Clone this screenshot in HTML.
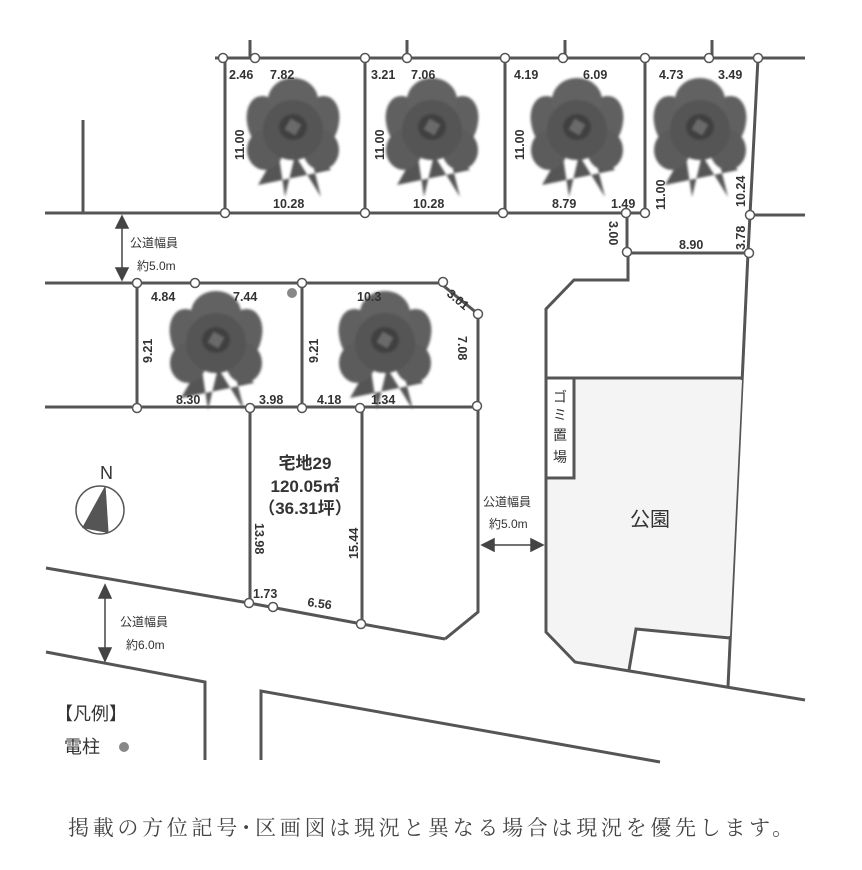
<!DOCTYPE html>
<html><head><meta charset="utf-8"><style>
html,body{margin:0;padding:0;background:#fff;}
svg{display:block;}
text{font-family:"Liberation Sans","Noto Sans CJK JP",sans-serif;fill:#333;}
.d{font-size:12.5px;font-weight:bold;}
.j{font-size:12px;}
</style></head><body>
<svg width="862" height="870" viewBox="0 0 862 870" xmlns="http://www.w3.org/2000/svg">
<defs>
<filter id="bl"><feGaussianBlur stdDeviation="1.2"/></filter>
<g id="fl" filter="url(#bl)">
<path d="M-35,50 L-15,15 L-8,62 L2,20 L28,62 L15,10 L38,35 Z" fill="#555"/>
<ellipse cx="-25" cy="-10" rx="20" ry="30" fill="#606060" transform="rotate(-20 -25 -10)"/>
<ellipse cx="25" cy="-10" rx="20" ry="30" fill="#606060" transform="rotate(20 25 -10)"/>
<ellipse cx="0" cy="-35" rx="25" ry="22" fill="#626262"/>
<ellipse cx="-28" cy="15" rx="18" ry="20" fill="#5c5c5c"/>
<ellipse cx="28" cy="15" rx="18" ry="20" fill="#5c5c5c"/>
<ellipse cx="0" cy="-5" rx="30" ry="30" fill="#555"/>
<ellipse cx="0" cy="-8" rx="14" ry="13" fill="#404040"/>
<rect x="-6" y="-14" width="12" height="12" fill="#6a6a6a" transform="rotate(30 0 -8)"/>
</g>
</defs>
<g fill="none" stroke="#555" stroke-width="3" stroke-linejoin="miter">
<line x1="215" y1="58" x2="805" y2="58"/>
<line x1="250" y1="40" x2="250" y2="58"/><line x1="407" y1="40" x2="407" y2="58"/>
<line x1="565" y1="40" x2="565" y2="58"/><line x1="712" y1="40" x2="712" y2="58"/>
<line x1="225" y1="58" x2="225" y2="213"/><line x1="365" y1="58" x2="365" y2="213"/>
<line x1="505" y1="58" x2="505" y2="213"/><line x1="645" y1="58" x2="645" y2="213"/>
<polyline points="758,58 750,215 748,253 728,687"/>
<line x1="45" y1="213" x2="627" y2="213"/><line x1="627" y1="213" x2="645" y2="213"/>
<line x1="750" y1="215" x2="805" y2="215"/>
<line x1="83" y1="120" x2="83" y2="213"/>
<polyline points="627,213 627,253 748,253"/>
<polyline points="45,283 440,283 478,314 478,612 445,639"/>
<line x1="45" y1="407" x2="478" y2="407"/>
<line x1="137" y1="283" x2="137" y2="407"/><line x1="302" y1="283" x2="302" y2="407"/>
<line x1="250" y1="407" x2="250" y2="603"/><line x1="362" y1="407" x2="362" y2="624"/>
<polyline points="46,568 249,603 362,624 445,639"/>
<polyline points="46,652 205,682 205,760"/>
<polyline points="261,760 261,691 660,762"/>
<polyline points="628,253 628,280 574,280 546,309 546,632 575,662 805,700"/>
<line x1="546" y1="378" x2="743" y2="378"/>
</g>
<polygon points="575,380 742,380 730,636 636,628 629,668 577,661 548,631 548,480 575,480" fill="#f4f4f4"/>
<g fill="none" stroke="#555" stroke-width="3">
<polyline points="574,378 574,478 546,478"/>
<polyline points="629,670 636,629 730,638"/>
</g>
<use href="#fl" x="293" y="135"/><use href="#fl" x="432" y="135"/>
<use href="#fl" x="577" y="135"/><use href="#fl" x="700" y="135"/>
<use href="#fl" x="216" y="348"/><use href="#fl" x="385" y="348"/>
<g fill="#fff" stroke="#555" stroke-width="1.5">
<circle cx="223" cy="58" r="4.5"/><circle cx="255" cy="58" r="4.5"/><circle cx="365" cy="58" r="4.5"/>
<circle cx="407" cy="58" r="4.5"/><circle cx="505" cy="58" r="4.5"/><circle cx="563" cy="58" r="4.5"/>
<circle cx="645" cy="58" r="4.5"/><circle cx="709" cy="58" r="4.5"/><circle cx="758" cy="58" r="4.5"/>
<circle cx="225" cy="213" r="4.5"/><circle cx="365" cy="213" r="4.5"/><circle cx="503" cy="213" r="4.5"/>
<circle cx="626" cy="213" r="4.5"/><circle cx="645" cy="213" r="4.5"/><circle cx="750" cy="215" r="4.5"/>
<circle cx="627" cy="252" r="4.5"/><circle cx="749" cy="253" r="4.5"/>
<circle cx="137" cy="283" r="4.5"/><circle cx="195" cy="283" r="4.5"/><circle cx="302" cy="283" r="4.5"/>
<circle cx="443" cy="282" r="4.5"/><circle cx="478" cy="314" r="4.5"/>
<circle cx="137" cy="408" r="4.5"/><circle cx="250" cy="408" r="4.5"/><circle cx="302" cy="408" r="4.5"/>
<circle cx="360" cy="408" r="4.5"/><circle cx="477" cy="406" r="4.5"/>
<circle cx="249" cy="603" r="4.5"/><circle cx="273" cy="607" r="4.5"/><circle cx="361" cy="624" r="4.5"/>
</g>
<circle cx="292" cy="293" r="5" fill="#888"/>
<g class="d">
<text x="229" y="79" class="d">2.46</text><text x="270" y="79" class="d">7.82</text>
<text x="371" y="79" class="d">3.21</text><text x="411" y="79" class="d">7.06</text>
<text x="514" y="79" class="d">4.19</text><text x="583" y="79" class="d">6.09</text>
<text x="659" y="79" class="d">4.73</text><text x="718" y="79" class="d">3.49</text>
<text x="273" y="208" class="d">10.28</text><text x="413" y="208" class="d">10.28</text>
<text x="552" y="208" class="d">8.79</text><text x="611" y="208" class="d">1.49</text>
<text x="679" y="249" class="d">8.90</text>
<text class="d" transform="translate(244,160) rotate(-90)">11.00</text>
<text class="d" transform="translate(384,160) rotate(-90)">11.00</text>
<text class="d" transform="translate(524,160) rotate(-90)">11.00</text>
<text class="d" transform="translate(665,210) rotate(-90)">11.00</text>
<text class="d" transform="translate(745,207) rotate(-90)">10.24</text>
<text class="d" transform="translate(745,250) rotate(-90)">3.78</text>
<text class="d" transform="translate(609,221) rotate(90)">3.00</text>
<text x="151" y="301" class="d">4.84</text><text x="233" y="301" class="d">7.44</text>
<text x="357" y="301" class="d">10.3</text>
<text class="d" transform="translate(446,295) rotate(40)">3.01</text>
<text class="d" transform="translate(458,336) rotate(90)">7.08</text>
<text class="d" transform="translate(152,363) rotate(-90)">9.21</text>
<text class="d" transform="translate(318,363) rotate(-90)">9.21</text>
<text x="176" y="404" class="d">8.30</text><text x="259" y="404" class="d">3.98</text>
<text x="317" y="404" class="d">4.18</text><text x="371" y="404" class="d">1.34</text>
<text class="d" transform="translate(255,523) rotate(90)">13.98</text>
<text class="d" transform="translate(358,559) rotate(-90)">15.44</text>
<text x="253" y="598" class="d">1.73</text>
<text class="d" transform="translate(307,606) rotate(8)">6.56</text>
</g>
<text x="305" y="469" font-size="17" text-anchor="middle" font-weight="bold">宅地29</text>
<text x="305" y="492" font-size="17" text-anchor="middle" font-weight="bold">120.05㎡</text>
<text x="305" y="514" font-size="17" text-anchor="middle" font-weight="bold">（36.31坪）</text>
<text x="650" y="526" font-size="20" text-anchor="middle">公園</text>
<g font-size="14"><text x="553" y="402">ゴ</text><text x="553" y="420">ミ</text><text x="553" y="440">置</text><text x="553" y="462">場</text></g>
<g stroke="#444" stroke-width="1.5" fill="#444">
<line x1="122" y1="222" x2="122" y2="272"/>
<polygon points="116,228 128,228 122,216"/><polygon points="116,268 128,268 122,280"/>
<line x1="488" y1="545" x2="537" y2="545"/>
<polygon points="494,539 494,551 482,545"/><polygon points="531,539 531,551 543,545"/>
<line x1="105" y1="592" x2="105" y2="654"/>
<polygon points="99,598 111,598 105,585"/><polygon points="99,648 111,648 105,661"/>
</g>
<text x="130" y="247" class="j">公道幅員</text><text x="137" y="270" class="j">約5.0m</text>
<text x="483" y="506" class="j">公道幅員</text><text x="489" y="528" class="j">約5.0m</text>
<text x="120" y="626" class="j">公道幅員</text><text x="126" y="649" class="j">約6.0m</text>
<circle cx="100" cy="510" r="24" fill="none" stroke="#555" stroke-width="1.5"/>
<polygon points="105,486 82,528 108,533" fill="#555"/>
<line x1="105" y1="486" x2="108" y2="533" stroke="#555" stroke-width="1.2"/>
<text x="100" y="479" font-size="18">N</text>
<text x="55" y="720" font-size="18">【凡例】</text>
<text x="64" y="753" font-size="18">電柱</text>
<circle cx="124" cy="747" r="5" fill="#888"/>
<text x="68" y="835" font-size="21" letter-spacing="3.7" style="font-family:'Noto Serif CJK SC','Liberation Serif',serif;fill:#444">掲載の方位記号･区画図は現況と異なる場合は現況を優先します。</text>
</svg>
</body></html>
